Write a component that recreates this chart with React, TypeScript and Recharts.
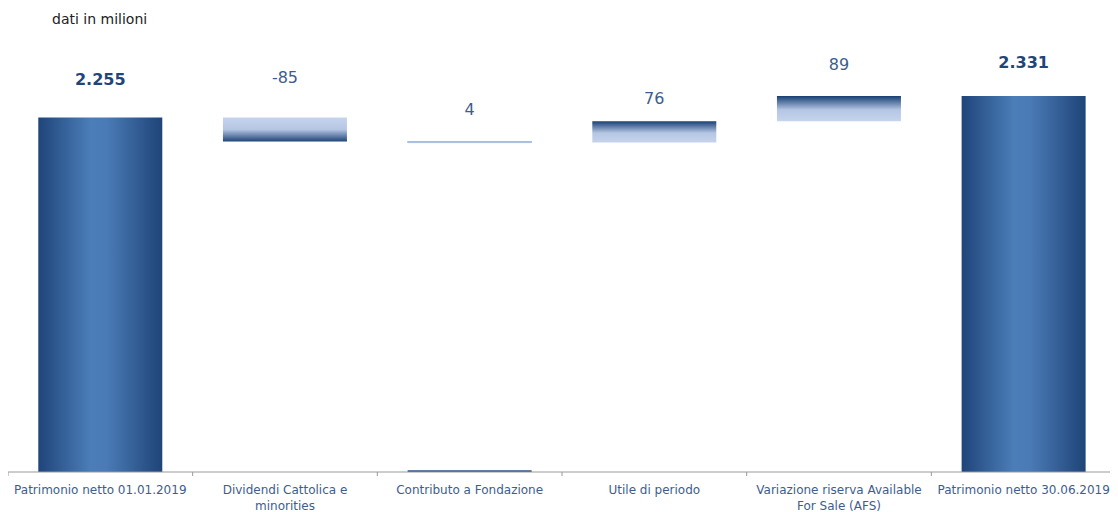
import React from "react";
import { BarChart, Bar, XAxis, YAxis, Cell, LabelList } from "recharts";

// ---- data ----
const categories = [
  "Patrimonio netto 01.01.2019",
  "Dividendi Cattolica e minorities",
  "Contributo a Fondazione",
  "Utile di periodo",
  "Variazione riserva Available For Sale (AFS)",
  "Patrimonio netto 30.06.2019",
];
const tickLines = [
  ["Patrimonio netto 01.01.2019"],
  ["Dividendi Cattolica e", "minorities"],
  ["Contributo a Fondazione"],
  ["Utile di periodo"],
  ["Variazione riserva Available", "For Sale (AFS)"],
  ["Patrimonio netto 30.06.2019"],
];
const values = [2255, -85, 4, 76, 89, 2331];
const valueLabels = ["2.255", "-85", "4", "76", "89", "2.331"];
const kinds = ["total", "neg", "tiny", "pos", "pos", "total"];
const Y_MIN = 1000;
const Y_MAX = 2600;
const barStart = [Y_MIN, 2170, 2166, 2166, 2242, Y_MIN];
const barEnd = [2255, 2255, 2170, 2242, 2331, 2331];
const baseMarkStart = [null, null, Y_MIN, null, null, null];
const baseMarkEnd = [null, null, 1006, null, null, null];

// ---- layout / style ----
const CHART_W = 1110;
const CHART_H = 504;
const MARGIN = { top: 12, right: 2, left: 0, bottom: 0 };
const XAXIS_H = 40;
const PLOT_W = CHART_W - MARGIN.left - MARGIN.right;
const BAND = PLOT_W / categories.length;
const PLOT_BOTTOM = CHART_H - MARGIN.bottom - XAXIS_H;
const LABEL_GAP = [38, 40, 32, 23, 32, 34];
const FONT = "'DejaVu Sans', sans-serif";
const TEXT_BLUE = "#3d5d8e";

const data = categories.map((name, i) => ({
  name,
  value: values[i],
  range: [barStart[i], barEnd[i]],
  mark: baseMarkStart[i] == null ? null : [baseMarkStart[i], baseMarkEnd[i]],
}));

const fillFor = (k: string) =>
  k === "total" ? "url(#gTotal)" : k === "neg" ? "url(#gNeg)" : k === "pos" ? "url(#gPos)" : "#a9bde0";

function Tick(props: any) {
  const { x, index } = props;
  const lines = tickLines[index] || [];
  const left = x - BAND / 2;
  return (
    <g>
      <line x1={left} x2={left} y1={PLOT_BOTTOM} y2={PLOT_BOTTOM + 4} stroke="#999" />
      {index === categories.length - 1 && (
        <line x1={x + BAND / 2} x2={x + BAND / 2} y1={PLOT_BOTTOM} y2={PLOT_BOTTOM + 4} stroke="#999" />
      )}
      {lines.map((l: string, j: number) => (
        <text
          key={j}
          x={x}
          y={PLOT_BOTTOM + 22 + j * 16}
          textAnchor="middle"
          fontFamily={FONT}
          fontSize={12}
          fill={TEXT_BLUE}
        >
          {l}
        </text>
      ))}
    </g>
  );
}

function ValueLabel(props: any) {
  const { x, y, width, index } = props;
  const total = kinds[index] === "total";
  return (
    <text
      x={x + width / 2}
      y={y - LABEL_GAP[index]}
      dy="0.35em"
      textAnchor="middle"
      fontFamily={FONT}
      fontSize={16}
      fontWeight={total ? 700 : 400}
      fill={total ? "#1f4579" : TEXT_BLUE}
    >
      {valueLabels[index]}
    </text>
  );
}

export default function App() {
  return (
    <div style={{ position: "relative", width: CHART_W, height: CHART_H }}>
      <div
        style={{
          position: "absolute",
          left: 44,
          top: 3,
          fontFamily: FONT,
          fontSize: 14,
          color: "#222",
        }}
      >
        dati in milioni
      </div>
      <BarChart width={CHART_W} height={CHART_H} data={data} margin={MARGIN} barCategoryGap="16.4%">
        <defs>
          <linearGradient id="gTotal" x1="0" y1="0" x2="1" y2="0">
            <stop offset="0" stopColor="#1f457a" />
            <stop offset="0.42" stopColor="#4b7db8" />
            <stop offset="0.55" stopColor="#4a7bb6" />
            <stop offset="1" stopColor="#1f4478" />
          </linearGradient>
          <linearGradient id="gNeg" x1="0" y1="0" x2="0" y2="1">
            <stop offset="0" stopColor="#c6d4ed" />
            <stop offset="0.5" stopColor="#b5c6e3" />
            <stop offset="1" stopColor="#1f4578" />
          </linearGradient>
          <linearGradient id="gPos" x1="0" y1="0" x2="0" y2="1">
            <stop offset="0" stopColor="#173f73" />
            <stop offset="0.55" stopColor="#b5c6e3" />
            <stop offset="1" stopColor="#c6d4ed" />
          </linearGradient>
        </defs>
        <XAxis
          dataKey="name"
          height={XAXIS_H}
          interval={0}
          axisLine={{ stroke: "#999" }}
          tickLine={false}
          tick={<Tick />}
        />
        <XAxis xAxisId="mark" dataKey="name" hide />
        <YAxis hide domain={[Y_MIN, Y_MAX]} allowDataOverflow />
        <Bar dataKey="range" isAnimationActive={false}>
          {data.map((_, i) => (
            <Cell
              key={i}
              fill={fillFor(kinds[i])}
              stroke={kinds[i] === "tiny" ? "#a9bde0" : "none"}
              strokeWidth={kinds[i] === "tiny" ? 1 : 0}
            />
          ))}
          <LabelList dataKey="value" content={<ValueLabel />} />
        </Bar>
        <Bar dataKey="mark" xAxisId="mark" fill="#2f5183" isAnimationActive={false} />
      </BarChart>
    </div>
  );
}
